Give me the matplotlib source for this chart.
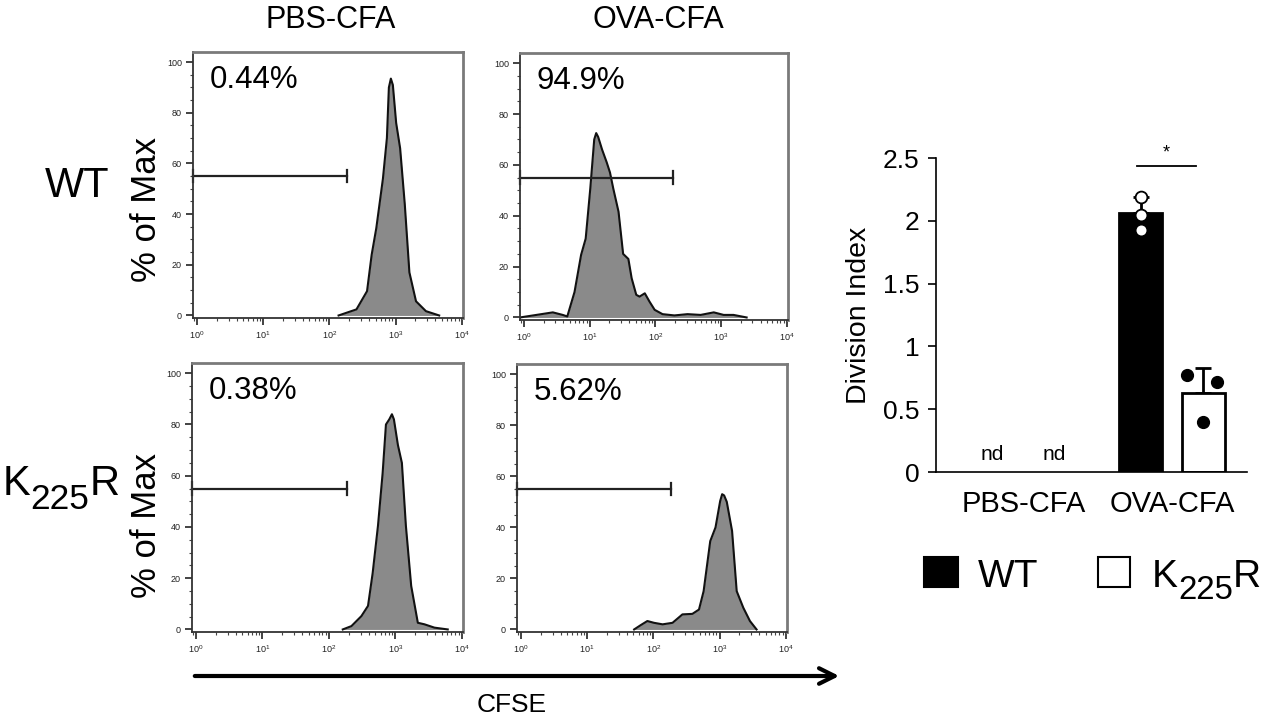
import numpy as np
import matplotlib
matplotlib.use('Agg')
import matplotlib.pyplot as plt
from matplotlib.ticker import MultipleLocator, LogLocator, NullFormatter
from matplotlib.patches import Rectangle

plt.rcParams['font.family'] = ['Liberation Sans', 'DejaVu Sans']

# ---- flow histograms: log10(CFSE) vs % of max ----
wt_pbs_x = [2.14, 2.41, 2.57, 2.64, 2.71, 2.81, 2.87, 2.90, 2.93, 2.96, 3.01, 3.07, 3.14, 3.21, 3.31, 3.46, 3.66]
wt_pbs_y = [0, 2.4, 9.6, 24, 34.5, 54, 70, 90, 93.5, 91, 76, 66, 44, 17, 5.6, 1.7, 0]

wt_ova_x = [-0.06, 0.19, 0.44, 0.59, 0.66, 0.77, 0.87, 0.94, 1.01, 1.07, 1.10, 1.13, 1.19, 1.26, 1.31, 1.36,
            1.44, 1.51, 1.59, 1.64, 1.71, 1.76, 1.84, 1.91, 1.99, 2.11, 2.29, 2.49, 2.69, 2.89, 3.04,
            3.19, 3.39]
wt_ova_y = [0, 1, 2, 1, 0.4, 10, 24.6, 31, 50.7, 70, 72.5, 71, 66, 61, 57, 50.7,
            41.6, 25, 23, 15.4, 8.9, 8.2, 9.5, 6.3, 3, 1.3, 0.8, 1.3, 1, 2, 1,
            1, 0]

k_pbs_x = [2.21, 2.34, 2.49, 2.59, 2.66, 2.74, 2.81, 2.86, 2.91, 2.95, 2.98, 3.04, 3.10, 3.16, 3.24,
           3.34, 3.44, 3.59, 3.79]
k_pbs_y = [0, 1.3, 5.2, 9.2, 22, 40.5, 61, 80, 82, 84, 82, 72, 65, 40.5, 17,
           2.6, 2, 0.7, 0]

k_ova_x = [1.71, 1.81, 1.91, 2.01, 2.14, 2.29, 2.44, 2.59, 2.69, 2.76, 2.86, 2.94, 3.01, 3.04, 3.07, 3.11,
           3.19, 3.26, 3.36, 3.46, 3.56]
k_ova_y = [0, 1.7, 3.3, 2.6, 2, 2.6, 5.9, 6.1, 7.8, 15, 34.6, 40, 50.3, 53, 52.5, 50,
           38.6, 15, 8.5, 3.3, 0]

gate_pct = ['0.44%', '94.9%', '0.38%', '5.62%']
gate_lo, gate_hi, gate_y = -0.06, 2.27, 55

# ---- division index bar chart ----
groups = ['PBS-CFA', 'OVA-CFA']
wt_mean = [0, 2.06]
k_mean = [0, 0.63]
wt_err = [0, 0.13]
k_err = [0, 0.20]
not_done = [True, False]
wt_points = [[], [2.19, 2.05, 1.93]]
k_points = [[], [0.77, 0.72, 0.40]]

fig = plt.figure(figsize=(12.69, 7.16), dpi=100)
W, H = 1269, 716


def px_axes(l, t, r, b):
    return fig.add_axes([l / W, 1 - b / H, (r - l) / W, (b - t) / H])


hist_boxes = [(193, 52, 463, 318), (520, 53, 788, 320), (192, 363, 463, 632), (517, 364, 787, 632)]
hist_data = [(wt_pbs_x, wt_pbs_y), (wt_ova_x, wt_ova_y), (k_pbs_x, k_pbs_y), (k_ova_x, k_ova_y)]

for box, (hx, hy), pct in zip(hist_boxes, hist_data, gate_pct):
    ax = px_axes(*box)
    xs = 10 ** np.array(hx)
    ax.fill_between(xs, hy, 0, color='#8a8a8a', lw=0)
    ax.plot(xs, hy, color='#111111', lw=1.5, solid_joinstyle='round')
    ax.set_xscale('log')
    ax.set_xlim(10 ** -0.06, 10 ** 4.02)
    ax.set_ylim(-1, 104)
    ax.set_yticks([0, 20, 40, 60, 80, 100])
    ax.yaxis.set_minor_locator(MultipleLocator(5))
    ax.xaxis.set_major_locator(LogLocator(base=10, numticks=10))
    ax.xaxis.set_minor_locator(LogLocator(base=10, subs=np.arange(2, 10), numticks=10))
    ax.xaxis.set_minor_formatter(NullFormatter())
    ax.tick_params(which='major', length=5, width=1.2, labelsize=6.5, colors='#222222', pad=3)
    ax.tick_params(which='minor', length=2.5, width=0.8, colors='#444444')
    for s in ['top', 'right']:
        ax.spines[s].set_color('#7a7a7a')
        ax.spines[s].set_linewidth(2)
    for s in ['left', 'bottom']:
        ax.spines[s].set_color('#333333')
        ax.spines[s].set_linewidth(1.3)
    # gate marker
    ax.plot([10 ** gate_lo, 10 ** gate_hi], [gate_y, gate_y], color='#222222', lw=1.6, clip_on=False)
    for gx in (gate_lo, gate_hi):
        ax.plot([10 ** gx, 10 ** gx], [gate_y - 2.4, gate_y + 2.4], color='#222222', lw=1.6, clip_on=False)
    ax.text(0.062, 0.95, pct, transform=ax.transAxes, fontsize=22.5, va='top', ha='left')

# ---- bar chart ----
bx = px_axes(936, 158, 1247, 472)
centers = np.arange(len(groups))
off, bw = 0.21, 0.29
for i in centers:
    if not_done[i]:
        bx.text(i - off, 0.06, 'nd', ha='center', va='bottom', fontsize=15)
        bx.text(i + off, 0.06, 'nd', ha='center', va='bottom', fontsize=15)
        continue
    bx.errorbar(i - off, wt_mean[i], yerr=[[0], [wt_err[i]]], fmt='none', ecolor='black',
                elinewidth=2, capsize=6, capthick=2, zorder=1)
    bx.errorbar(i + off, k_mean[i], yerr=[[0], [k_err[i]]], fmt='none', ecolor='black',
                elinewidth=2, capsize=6, capthick=2, zorder=1)
    bx.bar(i - off, wt_mean[i], bw, color='black', edgecolor='black', lw=2, zorder=2)
    bx.bar(i + off, k_mean[i], bw, color='white', edgecolor='black', lw=2, zorder=2)
    bx.plot([i - off] * len(wt_points[i]), wt_points[i], 'o', ms=8.5, mfc='white',
            mec='black', mew=1.3, zorder=3)
    kdx = [-0.11, 0.095, 0.0]
    bx.plot([i + off + d for d in kdx], k_points[i], 'o', ms=8.5, mfc='black',
            mec='black', zorder=3)

# significance
bx.plot([0.764, 1.162], [2.44, 2.44], color='black', lw=1.3)
bx.text(0.963, 2.47, '*', ha='center', va='bottom', fontsize=13)

bx.set_xlim(-0.589, 1.505)
bx.set_ylim(0, 2.5)
bx.set_yticks([0, 0.5, 1, 1.5, 2, 2.5])
bx.set_yticklabels(['0', '0.5', '1', '1.5', '2', '2.5'])
bx.set_xticks(centers)
bx.set_xticklabels(groups)
bx.tick_params(axis='y', labelsize=19, length=6, width=1.2, pad=6)
bx.tick_params(axis='x', labelsize=21, length=0, pad=13)
bx.spines['top'].set_visible(False)
bx.spines['right'].set_visible(False)
bx.spines['left'].set_linewidth(1.2)
bx.spines['bottom'].set_linewidth(1.2)
bx.set_ylabel('Division Index', fontsize=20.5, labelpad=8)

# ---- figure-level annotations in pixel coords ----
ov = fig.add_axes([0, 0, 1, 1], zorder=-1)
ov.set_xlim(0, W)
ov.set_ylim(H, 0)
ov.axis('off')


def k225r(x, y, fs):
    t1 = ov.text(x, y, 'K', fontsize=fs, va='baseline', ha='left')
    t2 = ov.annotate('225', xy=(1, 0), xycoords=t1, xytext=(0, -0.28 * fs),
                     textcoords='offset points', fontsize=fs * 0.85, va='bottom', ha='left')
    ov.annotate('R', xy=(1, 0), xycoords=t2, xytext=(0, 0.28 * fs),
                textcoords='offset points', fontsize=fs, va='bottom', ha='left')


ov.text(331, 28, 'PBS-CFA', fontsize=22, ha='center', va='baseline')
ov.text(658, 28, 'OVA-CFA', fontsize=22, ha='center', va='baseline')
ov.text(45, 197, 'WT', fontsize=30, ha='left', va='baseline')
k225r(3, 495, 30)
ov.text(146, 209, '% of Max', fontsize=25, rotation=90, ha='center', va='center')
ov.text(146, 525, '% of Max', fontsize=25, rotation=90, ha='center', va='center')

ov.annotate('', xy=(842, 676), xytext=(192, 676),
            arrowprops=dict(arrowstyle='->', lw=3, mutation_scale=28, color='black'))
ov.text(512, 712, 'CFSE', fontsize=19, ha='center', va='baseline')

# legend
ov.add_patch(Rectangle((924, 557), 34, 30, facecolor='black', edgecolor='black', lw=1.5))
ov.text(978, 587, 'WT', fontsize=28, ha='left', va='baseline')
ov.add_patch(Rectangle((1098, 557), 32, 30, facecolor='white', edgecolor='black', lw=1.5))
k225r(1152, 587, 28)

fig.savefig('out.png', dpi=100)
